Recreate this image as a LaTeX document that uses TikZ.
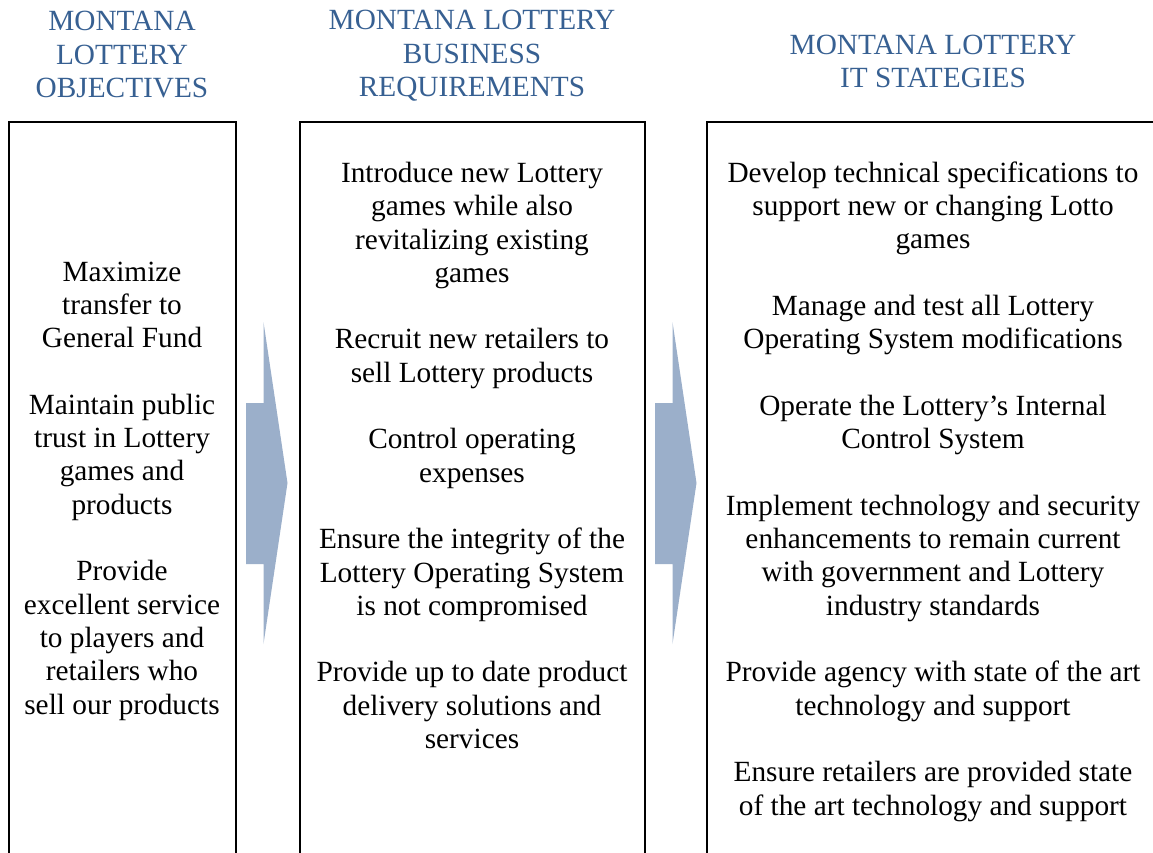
\documentclass[tikz,border=0pt]{standalone}
\usepackage{fontspec}
\setmainfont{Liberation Serif}
\usepackage{tikz}
\definecolor{headblue}{HTML}{376092}
\definecolor{arrowblue}{HTML}{9BAFCA}

\begin{document}
\begin{tikzpicture}[x=1pt, y=-1pt, line width=2pt,
  head/.style={text=headblue, align=center, anchor=base, inner sep=0pt, font=\fontsize{29.3}{33.4}\selectfont},
  body/.style={align=center, anchor=base, inner sep=0pt, font=\fontsize{29.3}{33.3}\selectfont}]
\useasboundingbox (0,0) rectangle (1153,852);
% the three columns
\draw (9,122) rectangle (236,900);
\draw (300,122) rectangle (645,900);
\draw (707,122) rectangle (1170,900);
% block arrows between the columns
\foreach \x in {246,655} \fill[arrowblue] (\x,403)--(\x+17.5,403)--(\x+17.5,322)--(\x+41.5,483)--(\x+17.5,644)--(\x+17.5,564)--(\x,564)--cycle;
% headings (placed at the baseline of their last line)
\node[head] (objhead) at (122,97.5) {MONTANA\\LOTTERY\\OBJECTIVES};
\node[head] (reqhead) at (472,96.5) {MONTANA LOTTERY\\BUSINESS\\REQUIREMENTS};
\node[head] (ithead) at (933,87.5) {MONTANA LOTTERY\\IT STATEGIES};
% column texts
\node[body] (objtext) at (122,714) {Maximize\\transfer to\\General Fund\\[33.3pt]
Maintain public\\trust in Lottery\\games and\\products\\[33.3pt]
Provide\\excellent service\\to players and\\retailers who\\sell our products};
\node[body] (reqtext) at (472,748.5) {Introduce new Lottery\\games while also\\revitalizing existing\\games\\[33.3pt]
Recruit new retailers to\\sell Lottery products\\[33.3pt]
Control operating\\expenses\\[33.3pt]
Ensure the integrity of the\\Lottery Operating System\\is not compromised\\[33.3pt]
Provide up to date product\\delivery solutions and\\services};
\node[body] (ittext) at (933,815) {Develop technical specifications to\\support new or changing Lotto\\games\\[33.3pt]
Manage and test all Lottery\\Operating System modifications\\[33.3pt]
Operate the Lottery's Internal\\Control System\\[33.3pt]
Implement technology and security\\enhancements to remain current\\with government and Lottery\\industry standards\\[33.3pt]
Provide agency with state of the art\\technology and support\\[33.3pt]
Ensure retailers are provided state\\of the art technology and support};
\end{tikzpicture}
\end{document}
